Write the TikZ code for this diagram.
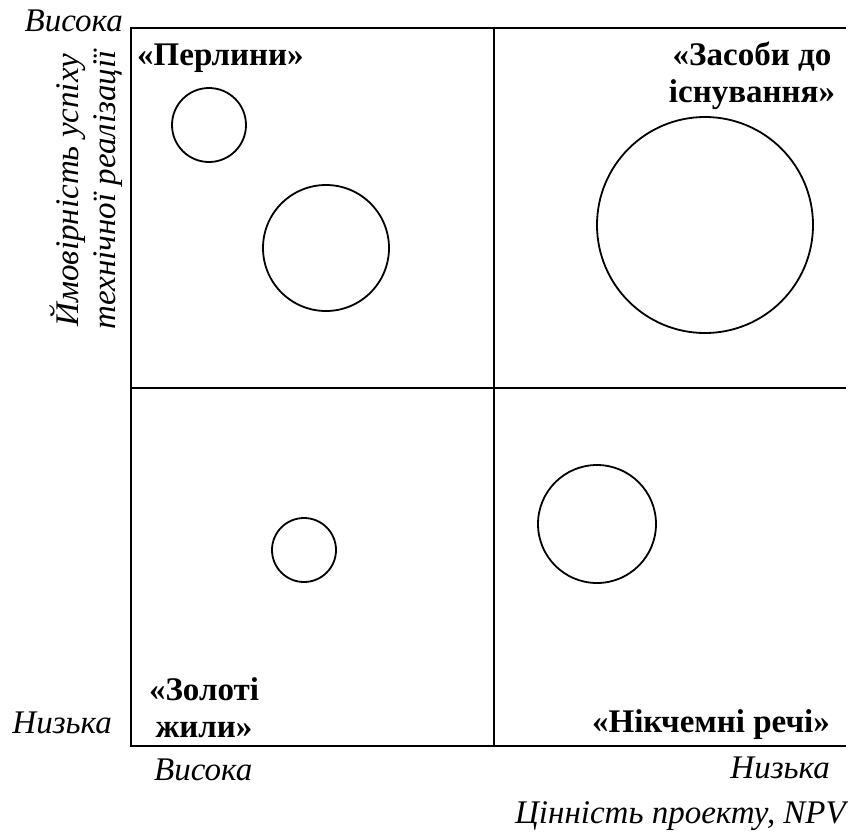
\documentclass[tikz,border=0pt]{standalone}
\usepackage{fontspec}
\setmainfont{Liberation Serif}
\begin{document}
\begin{tikzpicture}[x=1pt,y=-1pt,
  frame/.style={line width=2.8pt},
  bubble/.style={circle,draw,line width=1.8pt,inner sep=0pt},
  axislab/.style={font=\fontsize{33}{37}\selectfont\itshape,inner sep=0pt},
  quadlab/.style={font=\fontsize{33}{37}\selectfont\bfseries,inner sep=0pt,align=center}]
\useasboundingbox (0,0) rectangle (848,833);
% matrix frame and dividers
\coordinate (tl) at (131,28);
\coordinate (tr) at (846,28);
\coordinate (bl) at (131,746);
\coordinate (br) at (846,746);
\coordinate (vt) at (494,28);
\coordinate (vb) at (494,746);
\coordinate (hl) at (131,388);
\coordinate (hr) at (846,388);
\draw[frame] (tr) -- (tl) -- (bl) -- (br);
\draw[frame] (vt) -- (vb);
\draw[frame] (hl) -- (hr);
% projects
\node[bubble,minimum size=74pt] (p1) at (209,125) {};
\node[bubble,minimum size=126pt] (p2) at (326,248) {};
\node[bubble,minimum size=216pt] (p3) at (705,225) {};
\node[bubble,minimum size=64pt] (p4) at (304,550) {};
\node[bubble,minimum size=118pt] (p5) at (597,524) {};
% quadrant names (base = baseline of the last line)
\node[quadlab,anchor=base west] (q1) at (137,65) {«Перлини»};
\node[quadlab,anchor=base] (q2) at (752,102) {«Засоби до\\існування»};
\node[quadlab,anchor=base] (q3) at (204,737) {«Золоті\\жили»};
\node[quadlab,anchor=base east] (q4) at (830,732) {«Нікчемні речі»};
% axis marks
\node[axislab,anchor=base east] (yhi) at (123,31) {Висока};
\node[axislab,anchor=base east] (ylo) at (112,733) {Низька};
\node[axislab,anchor=base west] (xhi) at (154,780) {Висока};
\node[axislab,anchor=base east] (xlo) at (830,778) {Низька};
\node[axislab,anchor=base east] (xt) at (846,823) {Цінність проекту, \textit{NPV}};
\node[axislab,rotate=90,align=center] (yt) at (86,190) {Ймовірність успіху\\технічної реалізації};
\end{tikzpicture}
\end{document}
